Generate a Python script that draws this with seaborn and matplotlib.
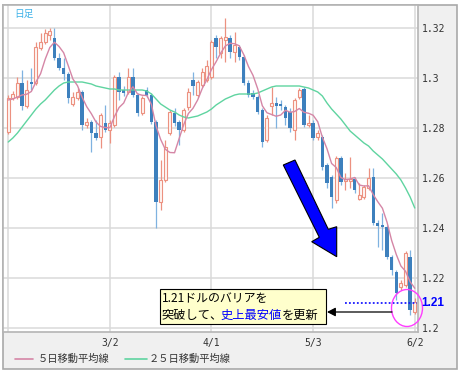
import matplotlib
matplotlib.use("Agg")
import matplotlib.pyplot as plt
import seaborn as sns
import pandas as pd
from matplotlib.patches import Rectangle, Ellipse, Polygon, FancyArrowPatch
from matplotlib.lines import Line2D

# ---------------- data ----------------
open_ = [1.2784, 1.2920, 1.2924, 1.2980, 1.2888, 1.2984, 1.2980, 1.3120, 1.3144, 1.3172,
         1.3160, 1.3080, 1.3040, 1.3016, 1.2896, 1.2920, 1.2944, 1.2812, 1.2824, 1.2780,
         1.2764, 1.2820, 1.2792, 1.2812, 1.3004, 1.2952, 1.2944, 1.3004, 1.2932, 1.2860,
         1.2952, 1.2932, 1.2824, 1.2504, 1.2592, 1.2780, 1.2860, 1.2824, 1.2792, 1.2884,
         1.2992, 1.2932, 1.2972, 1.2992, 1.3004, 1.3160, 1.3100, 1.3152, 1.3160, 1.3104,
         1.3124, 1.3084, 1.2980, 1.2940, 1.2924, 1.2872, 1.2752, 1.2888, 1.2900, 1.2896,
         1.2884, 1.2864, 1.2792, 1.2924, 1.2956, 1.2812, 1.2820, 1.2764, 1.2764, 1.2652,
         1.2604, 1.2512, 1.2680, 1.2588, 1.2588, 1.2596, 1.2516, 1.2524, 1.2560, 1.2604,
         1.2420, 1.2412, 1.2404, 1.2284, 1.2224, 1.2164, 1.2172, 1.2284, 1.2064]
high = [1.2932, 1.2948, 1.3004, 1.3032, 1.2992, 1.3040, 1.3144, 1.3180, 1.3196, 1.3200,
        1.3200, 1.3100, 1.3080, 1.3024, 1.2944, 1.2960, 1.2952, 1.2840, 1.2832, 1.2832,
        1.2860, 1.2892, 1.2832, 1.3012, 1.3024, 1.2968, 1.3040, 1.3040, 1.2940, 1.2928,
        1.2964, 1.2940, 1.2832, 1.2672, 1.2752, 1.2872, 1.2880, 1.2832, 1.2880, 1.2960,
        1.3024, 1.2992, 1.3040, 1.3072, 1.3152, 1.3172, 1.3168, 1.3240, 1.3172, 1.3184,
        1.3132, 1.3092, 1.2992, 1.2952, 1.2932, 1.2880, 1.2852, 1.2964, 1.2924, 1.2912,
        1.2892, 1.2880, 1.2920, 1.2960, 1.2964, 1.2852, 1.2832, 1.2792, 1.2772, 1.2660,
        1.2612, 1.2688, 1.2688, 1.2620, 1.2684, 1.2604, 1.2580, 1.2572, 1.2640, 1.2640,
        1.2432, 1.2460, 1.2412, 1.2292, 1.2232, 1.2192, 1.2308, 1.2312, 1.2120]
low = [1.2776, 1.2912, 1.2916, 1.2872, 1.2880, 1.2952, 1.2972, 1.3112, 1.3136, 1.3152,
       1.3072, 1.3032, 1.2992, 1.2900, 1.2888, 1.2912, 1.2792, 1.2800, 1.2704, 1.2752,
       1.2720, 1.2784, 1.2740, 1.2804, 1.2912, 1.2928, 1.2936, 1.2924, 1.2848, 1.2852,
       1.2924, 1.2816, 1.2400, 1.2472, 1.2584, 1.2772, 1.2808, 1.2732, 1.2784, 1.2872,
       1.2932, 1.2924, 1.2964, 1.2984, 1.2996, 1.3080, 1.3080, 1.3064, 1.3080, 1.3064,
       1.3072, 1.2972, 1.2924, 1.2916, 1.2856, 1.2724, 1.2744, 1.2852, 1.2800, 1.2872,
       1.2812, 1.2784, 1.2752, 1.2916, 1.2804, 1.2804, 1.2752, 1.2752, 1.2632, 1.2560,
       1.2480, 1.2500, 1.2572, 1.2552, 1.2560, 1.2540, 1.2512, 1.2516, 1.2552, 1.2412,
       1.2324, 1.2312, 1.2276, 1.2212, 1.2112, 1.2152, 1.2164, 1.2052, 1.2056]
close = [1.2920, 1.2936, 1.2980, 1.2888, 1.2952, 1.2976, 1.3124, 1.3144, 1.3180, 1.3188,
         1.3080, 1.3040, 1.3016, 1.2920, 1.2924, 1.2944, 1.2812, 1.2824, 1.2780, 1.2760,
         1.2852, 1.2792, 1.2820, 1.3004, 1.2944, 1.2940, 1.3004, 1.2932, 1.2860, 1.2920,
         1.2932, 1.2824, 1.2504, 1.2592, 1.2724, 1.2864, 1.2820, 1.2792, 1.2872, 1.2944,
         1.2968, 1.2984, 1.3024, 1.3048, 1.3144, 1.3124, 1.3160, 1.3164, 1.3104, 1.3132,
         1.3084, 1.2980, 1.2932, 1.2924, 1.2864, 1.2744, 1.2840, 1.2900, 1.2888, 1.2888,
         1.2840, 1.2800, 1.2912, 1.2952, 1.2812, 1.2820, 1.2760, 1.2780, 1.2644, 1.2580,
         1.2524, 1.2680, 1.2584, 1.2596, 1.2596, 1.2552, 1.2532, 1.2564, 1.2600, 1.2420,
         1.2408, 1.2404, 1.2284, 1.2232, 1.2140, 1.2180, 1.2300, 1.2072, 1.2104]
ma5 = [1.2912, 1.2916, 1.2924, 1.2932, 1.2935, 1.2946, 1.2984, 1.3017, 1.3075, 1.3122,
       1.3143, 1.3126, 1.3101, 1.3049, 1.2996, 1.2969, 1.2923, 1.2885, 1.2857, 1.2824,
       1.2806, 1.2802, 1.2801, 1.2846, 1.2882, 1.2900, 1.2942, 1.2965, 1.2936, 1.2931,
       1.2930, 1.2894, 1.2808, 1.2754, 1.2715, 1.2702, 1.2701, 1.2758, 1.2814, 1.2858,
       1.2879, 1.2912, 1.2958, 1.2994, 1.3034, 1.3065, 1.3100, 1.3128, 1.3139, 1.3137,
       1.3129, 1.3093, 1.3046, 1.3010, 1.2957, 1.2889, 1.2861, 1.2854, 1.2847, 1.2852,
       1.2871, 1.2863, 1.2866, 1.2878, 1.2863, 1.2859, 1.2851, 1.2825, 1.2763, 1.2717,
       1.2658, 1.2642, 1.2602, 1.2593, 1.2596, 1.2602, 1.2572, 1.2568, 1.2569, 1.2534,
       1.2505, 1.2479, 1.2423, 1.2350, 1.2294, 1.2248, 1.2227, 1.2185, 1.2159]
ma25 = [1.2744, 1.2760, 1.2780, 1.2804, 1.2828, 1.2852, 1.2876, 1.2896, 1.2912, 1.2932,
        1.2952, 1.2968, 1.2980, 1.2984, 1.2984, 1.2984, 1.2984, 1.2980, 1.2976, 1.2968,
        1.2964, 1.2960, 1.2956, 1.2956, 1.2952, 1.2952, 1.2952, 1.2952, 1.2952, 1.2952,
        1.2948, 1.2936, 1.2916, 1.2896, 1.2884, 1.2872, 1.2864, 1.2852, 1.2844, 1.2840,
        1.2844, 1.2848, 1.2856, 1.2864, 1.2876, 1.2892, 1.2904, 1.2916, 1.2924, 1.2932,
        1.2936, 1.2936, 1.2936, 1.2936, 1.2940, 1.2948, 1.2956, 1.2964, 1.2968, 1.2968,
        1.2968, 1.2968, 1.2968, 1.2968, 1.2964, 1.2960, 1.2952, 1.2944, 1.2928, 1.2900,
        1.2876, 1.2856, 1.2836, 1.2812, 1.2788, 1.2772, 1.2756, 1.2740, 1.2728, 1.2708,
        1.2692, 1.2676, 1.2656, 1.2636, 1.2616, 1.2592, 1.2560, 1.2524, 1.2480]

grid_x = [0, 22, 44, 66, 88]
x_labels = ["", "3/2", "4/1", "5/3", "6/2"]
y_ticks = [1.20, 1.22, 1.24, 1.26, 1.28, 1.30, 1.32]
y_labels = ["1.2", "1.22", "1.24", "1.26", "1.28", "1.3", "1.32"]
barrier = 1.21
barrier_label = "1.21"
legend_labels = ["５日移動平均線", "２５日移動平均線"]
title = "日足"
note_line1 = "1.21ドルのバリアを"
note_line2 = ["突破して、", "史上最安値", "を更新"]

# ---------------- style ----------------
sns.set_style("white")
plt.rcParams["font.family"] = ["DejaVu Sans", "Noto Sans CJK JP"]
CJK = ["Noto Sans CJK JP", "DejaVu Sans"]
MONO = ["DejaVu Sans Mono"]

UP = "#ec9180"
UP_FACE = "#fff6f3"
DOWN = "#3d80bd"
DOWN_WICK = "#7fb2e0"
MA5_C = "#d586a6"
MA25_C = "#5fd4a0"
GRID = "#dadada"

W, H = 463, 376
fig = plt.figure(figsize=(W / 100, H / 100), dpi=100)


def fx(x):
    return x / W


def fy(y):
    return 1 - y / H


# outer grey panel
frame = Rectangle((fx(3), fy(369)), fx(457) - fx(3), fy(5) - fy(369),
                  transform=fig.transFigure, facecolor="#f0f0f0",
                  edgecolor="#a9a9a9", lw=1.2, zorder=-5)
fig.patches.append(frame)

ax = fig.add_axes([fx(3), fy(332), fx(418) - fx(3), fy(5) - fy(332)])
ax.set_facecolor("white")

df = pd.DataFrame({"i": range(len(close)), "open": open_, "high": high,
                   "low": low, "close": close, "ma5": ma5, "ma25": ma25})
up = df["close"] >= df["open"]
dn = ~up

# wicks
ax.vlines(df["i"][up], df["low"][up], df["high"][up], color=UP, lw=0.9, zorder=3)
ax.vlines(df["i"][dn], df["low"][dn], df["high"][dn], color=DOWN_WICK, lw=0.9, zorder=3)
# bodies
ax.bar(df["i"][up], (df["close"] - df["open"])[up], bottom=df["open"][up],
       width=0.64, facecolor=UP_FACE, edgecolor=UP, lw=0.8, zorder=4)
ax.bar(df["i"][dn], (df["open"] - df["close"])[dn], bottom=df["close"][dn],
       width=0.72, color=DOWN, lw=0, zorder=4)

# moving averages
sns.lineplot(data=df, x="i", y="ma25", ax=ax, color=MA25_C, lw=1.0, zorder=5)
sns.lineplot(data=df, x="i", y="ma5", ax=ax, color=MA5_C, lw=1.0, zorder=5)

ax.set_xlim(-1.13, 88.7)
ax.set_ylim(1.1984, 1.3292)
ax.set_xlabel("")
ax.set_ylabel("")

ax.set_xticks(grid_x)
ax.set_xticklabels(x_labels, fontfamily=MONO, fontsize=7, color="#333333")
ax.set_yticks(y_ticks)
ax.set_yticklabels(y_labels, fontfamily=MONO, fontsize=7, color="#333333")
ax.yaxis.tick_right()
ax.tick_params(axis="y", length=0, pad=2.5)
ax.tick_params(axis="x", length=0, pad=4.5)
ax.grid(True, color=GRID, lw=1.1, zorder=0)
ax.set_axisbelow(True)
for s in ax.spines.values():
    s.set_color("#b4b4b4")
    s.set_linewidth(1.2)
    s.set_visible(True)

# barrier line
ax.axhline(barrier, xmin=(345 - 3) / 415, xmax=(417 - 3) / 415, color="#1a1aff",
           ls=(0, (1, 1.2)), lw=1.3, zorder=6)
fig.text(fx(421.5), fy(303), barrier_label, color="#0000ff", fontsize=8.5,
         fontweight="bold", family=["Liberation Sans", "DejaVu Sans"],
         ha="left", va="center")

# title
fig.text(fx(14.5), fy(14), title, color="#3fb2e8", fontsize=7, family=CJK,
         ha="left", va="center")

# big blue arrow
arrow_pts = [(283.3, 165), (295, 160), (328.3, 229.3), (336.7, 226.7),
             (336.7, 256.7), (311.7, 241.7), (319.3, 237.3)]
poly = Polygon([(fx(a), fy(b)) for a, b in arrow_pts], closed=True,
               transform=fig.transFigure, facecolor="#0000ff", edgecolor="black",
               lw=0.8, zorder=7, clip_on=False)
ax.add_patch(poly)

# magenta ellipse
ell = Ellipse((fx(407), fy(308)), 31 / W, 37 / H, transform=fig.transFigure,
              facecolor="none", edgecolor="#ff3cff", lw=1.0, zorder=8, clip_on=False)
ax.add_patch(ell)

# black pointer arrow
arr = FancyArrowPatch((fx(392), fy(312)), (fx(327), fy(312)),
                      transform=fig.transFigure,
                      arrowstyle="-|>,head_length=5,head_width=2.6",
                      color="black", lw=0.9, zorder=8, clip_on=False,
                      shrinkA=0, shrinkB=0)
ax.add_patch(arr)

# annotation box
box = Rectangle((fx(160), fy(324)), fx(326) - fx(160), fy(289) - fy(324),
                transform=fig.transFigure, facecolor="#ffffcc", edgecolor="black",
                lw=0.8, zorder=9, clip_on=False)
ax.add_patch(box)

fig.text(fx(162), fy(298.5), note_line1, color="black", fontsize=8.6, family=CJK,
         ha="left", va="center", zorder=10)
seg_x = [161.5, 220.5, 281.8]
for seg, col, sx in zip(note_line2, ["black", "#0000ff", "black"], seg_x):
    fig.text(fx(sx), fy(315), seg, color=col, fontsize=8.8, family=CJK,
             ha="left", va="center", zorder=10)

# legend (bottom panel)
fig.lines.append(Line2D([fx(15), fx(33)], [fy(359), fy(359)], transform=fig.transFigure,
                        color=MA5_C, lw=1.2))
fig.text(fx(38), fy(359), legend_labels[0], color="#333333", fontsize=7.4, family=CJK,
         ha="left", va="center")
fig.lines.append(Line2D([fx(125), fx(147)], [fy(359), fy(359)], transform=fig.transFigure,
                        color=MA25_C, lw=1.2))
fig.text(fx(149), fy(359), legend_labels[1], color="#333333", fontsize=7.4, family=CJK,
         ha="left", va="center")

fig.savefig("out.png", dpi=100)
